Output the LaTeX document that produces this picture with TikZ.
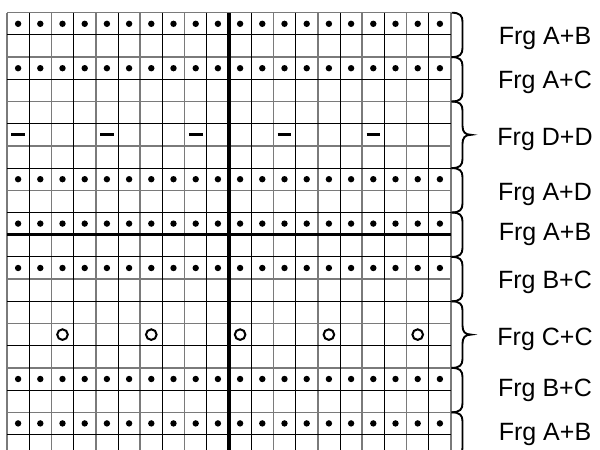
\documentclass[tikz,border=0pt]{standalone}
\usepackage{fontspec}
\setmainfont{Liberation Sans}
\definecolor{gridgray}{HTML}{7A7A7A}

\begin{document}
\begin{tikzpicture}[x=1pt, y=-1pt,
  font=\fontsize{25}{30}\selectfont,
  minorline/.style={draw=gridgray, line width=1.5pt},
  majorline/.style={draw=black, line width=1pt},
  axisline/.style={draw=black, line width=3.2pt},
  knot/.style={fill=black},
  ring/.style={draw=black, line width=2pt},
  bar/.style={draw=black, line width=3pt},
  grouping/.style={draw=black, line width=1.9pt},
  fraglabel/.style={anchor=base, inner sep=0pt}
]
  % --- page: 600 x 450, bottom row of the chart runs off the edge ---
  \clip (0,0) rectangle (600,450);
  \fill[white] (0,0) rectangle (600,450);

  % --- grid: 20 columns, cell 22.2, lines alternate gray / black ---
  \foreach \i in {0,2,...,20} {
    \draw[minorline] ({7+22.2*\i},12.7) -- ({7+22.2*\i},460);
    \draw[minorline] (7,{12.7+22.2*\i}) -- (451,{12.7+22.2*\i});
  }
  \foreach \i in {1,3,...,19} {
    \draw[majorline] ({7+22.2*\i},12.7) -- ({7+22.2*\i},460);
    \draw[majorline] (7,{12.7+22.2*\i}) -- (451,{12.7+22.2*\i});
  }
  % centre axes
  \draw[axisline] (229,12.7) -- (229,460);
  \draw[axisline] (7,234.7) -- (451,234.7);

  % --- symbols in the cells ---
  \foreach \r in {0,2,7,9,11,16,18}
    \foreach \c in {0,...,19}
      \fill[knot] ({18.1+22.2*\c},{23.8+22.2*\r}) circle (3.2);
  \foreach \c in {0,4,...,16}
    \draw[bar] ({18.1+22.2*\c-6.8},{23.8+22.2*5}) -- ({18.1+22.2*\c+6.8},{23.8+22.2*5});
  \foreach \c in {2,6,...,18}
    \draw[ring] ({18.1+22.2*\c},{23.8+22.2*14}) circle (5.3);

  % --- braces and fragment labels (first row / rows / label / baseline) ---
  \foreach \r/\n/\lab/\base in {0/2/{Frg A+B}/44.3, 2/2/{Frg A+C}/88.3,
      4/3/{Frg D+D}/145, 7/2/{Frg A+D}/200, 9/2/{Frg A+B}/240,
      11/2/{Frg B+C}/288.3, 13/3/{Frg C+C}/345, 16/2/{Frg B+C}/396.7,
      18/2/{Frg A+B}/440} {
    \pgfmathsetmacro\ytop{12.7+22.2*\r}
    \pgfmathsetmacro\ybot{12.7+22.2*(\r+\n)}
    \pgfmathsetmacro\ymid{(\ytop+\ybot)/2}
    \ifnum\n=3
      \draw[grouping] (451.5,\ytop) .. controls (460,\ytop) and (462.5,{\ytop+3}) .. (462.5,{\ytop+9})
        -- (462.5,{\ymid-9}) .. controls (462.5,{\ymid-3}) and (465,\ymid) .. (471,\ymid)
        .. controls (465,\ymid) and (462.5,{\ymid+3}) .. (462.5,{\ymid+9})
        -- (462.5,{\ybot-9}) .. controls (462.5,{\ybot-3}) and (460,\ybot) .. (451.5,\ybot);
    \else
      \draw[grouping] (451.5,\ytop) .. controls (460,\ytop) and (462.5,{\ytop+3}) .. (462.5,{\ytop+9})
        -- (462.5,{\ybot-9}) .. controls (462.5,{\ybot-3}) and (460,\ybot) .. (451.5,\ybot);
    \fi
    \node[fraglabel] (frg\r) at (545,\base) {\lab};
  }
\end{tikzpicture}
\end{document}
